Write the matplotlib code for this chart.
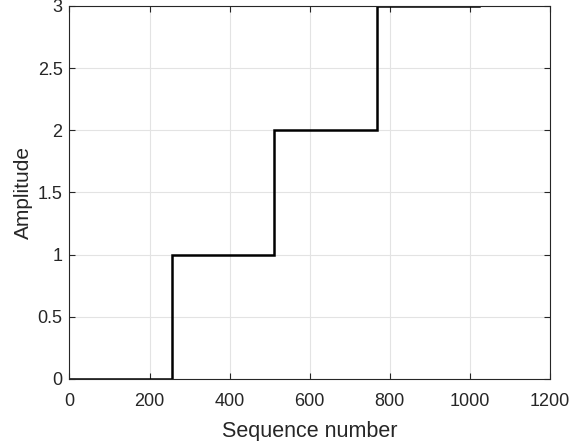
import matplotlib
matplotlib.use("Agg")
import matplotlib.pyplot as plt
import numpy as np

x_edges = [0, 256, 512, 768, 1024]
levels = [0, 1, 2, 3]
xticks = [0, 200, 400, 600, 800, 1000, 1200]
yticks = [0, 0.5, 1, 1.5, 2, 2.5, 3]
ytick_labels = ["0", "0.5", "1", "1.5", "2", "2.5", "3"]

plt.rcParams['font.family'] = ['Liberation Sans', 'DejaVu Sans']
fig = plt.figure(figsize=(5.71, 4.41), dpi=100)
ax = fig.add_axes([0.1217, 0.1406, 0.841, 0.8458])

xs = []
ys = []
for i, lv in enumerate(levels):
    xs += [x_edges[i], x_edges[i + 1]]
    ys += [lv, lv]
ax.plot(xs, ys, color='black', linewidth=1.8, solid_joinstyle='miter')

ax.set_xlim(0, 1200)
ax.set_ylim(0, 3)
ax.set_xticks(xticks)
ax.set_yticks(yticks)
ax.set_yticklabels(ytick_labels)
ax.grid(True, color='#e3e3e3', linewidth=0.8)
ax.set_axisbelow(True)
for s in ax.spines.values():
    s.set_color('#262626')
    s.set_linewidth(0.8)
ax.tick_params(direction='in', top=True, right=True, length=4, width=0.8,
               colors='#262626', labelsize=13, labelcolor='#262626')
ax.tick_params(axis='x', pad=10)
ax.tick_params(axis='y', pad=5)
ax.set_xlabel('Sequence number', fontsize=15.5, color='#262626', labelpad=8)
ax.set_ylabel('Amplitude', fontsize=15, color='#262626', labelpad=3)

fig.savefig('out.png', dpi=100)
